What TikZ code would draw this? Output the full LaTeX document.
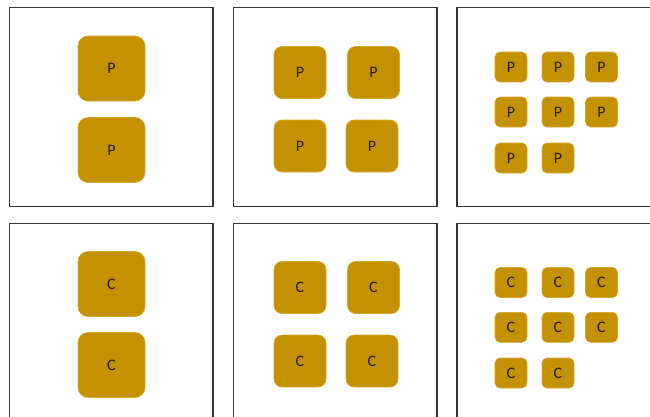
\documentclass[tikz,border=0pt]{standalone}
\usepackage{fontspec}
\setmainfont{Carlito}
\definecolor{gold}{RGB}{196,145,0}
\definecolor{goldedge}{RGB}{214,168,40}
\definecolor{frame}{RGB}{55,55,55}
\definecolor{txt}{RGB}{40,28,5}
\begin{document}
\begin{tikzpicture}[x=1pt,y=-1pt,
  panel/.style={draw=frame,line width=1.6pt},
  sq/.style={fill=gold,draw=goldedge,line width=0.6pt,text=txt,inner sep=0pt,font=\fontsize{16}{16}\selectfont},
  big/.style={sq,rounded corners=10pt,minimum width=67pt,minimum height=65pt},
  mid/.style={sq,rounded corners=8pt,minimum width=52pt,minimum height=52pt},
  small/.style={sq,rounded corners=5pt,minimum width=32pt,minimum height=30pt}]
\useasboundingbox (0,0) rectangle (650,416);
\clip (0,0) rectangle (650,416);
\fill[white] (0,0) rectangle (650,416);
% panels
\draw[panel] (9.5,7.5) rectangle (213,206.5);
\draw[panel] (233.5,7.5) rectangle (437,206.5);
\draw[panel] (456.7,7.5) rectangle (662,206.5);
\draw[panel] (9.5,223.3) rectangle (213,430);
\draw[panel] (233.5,223.3) rectangle (437,430);
\draw[panel] (456.7,223.3) rectangle (662,430);
% top row P
\node[big] (pa1) at (111.5,68.5) {P};
\node[big] (pa2) at (111.5,150) {P};
\node[mid] (pb1) at (300,72.5) {P};
\node[mid] (pb2) at (373.5,72.5) {P};
\node[mid] (pb3) at (300,146) {P};
\node[mid] (pb4) at (372,146) {P};
\node[small] (pc1) at (511,67) {P};
\node[small] (pc2) at (558,67) {P};
\node[small] (pc3) at (601.5,67) {P};
\node[small] (pc4) at (511,112) {P};
\node[small] (pc5) at (558,112) {P};
\node[small] (pc6) at (601.5,112) {P};
\node[small] (pc7) at (511,158) {P};
\node[small] (pc8) at (558,158) {P};
% bottom row C
\node[big] (ca1) at (111.5,284) {C};
\node[big] (ca2) at (111.5,365) {C};
\node[mid] (cb1) at (300,287.5) {C};
\node[mid] (cb2) at (373.5,287.5) {C};
\node[mid] (cb3) at (300,361) {C};
\node[mid] (cb4) at (372,361) {C};
\node[small] (cc1) at (511,282.5) {C};
\node[small] (cc2) at (558,282.5) {C};
\node[small] (cc3) at (601.5,282.5) {C};
\node[small] (cc4) at (511,327.3) {C};
\node[small] (cc5) at (558,327.3) {C};
\node[small] (cc6) at (601.5,327.3) {C};
\node[small] (cc7) at (511,373) {C};
\node[small] (cc8) at (558,373) {C};
\end{tikzpicture}
\end{document}
